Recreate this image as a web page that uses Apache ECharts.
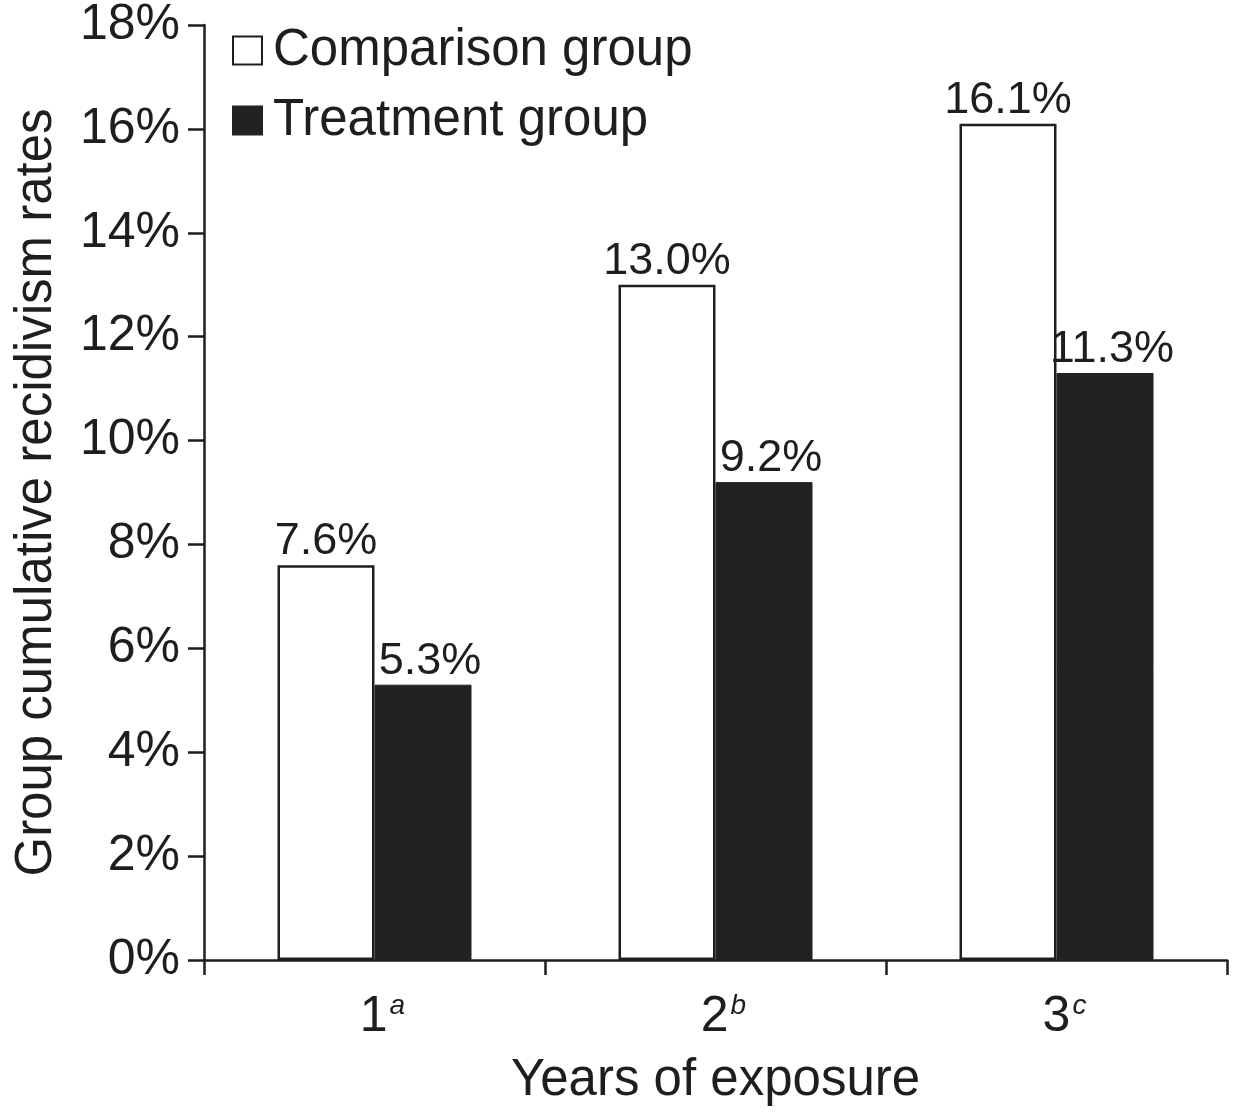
<!DOCTYPE html>
<html>
<head>
<meta charset="utf-8">
<script src="https://cdn.jsdelivr.net/npm/echarts@6/dist/echarts.min.js"></script>
<style>html,body{margin:0;padding:0;background:#fff}#c{width:1233px;height:1113px}</style>
</head>
<body>
<div id="c"></div>
<script>
const categories = ['1', '2', '3'];
const superscripts = ['a', 'b', 'c'];
const comparison = [7.6, 13.0, 16.1];
const treatment = [5.3, 9.2, 11.3];
const yTicks = [0, 2, 4, 6, 8, 10, 12, 14, 16, 18];
</script>
<script>
const ink = '#1e1e1e';
const font = 'Liberation Sans, Arial, sans-serif';
const chart = echarts.init(document.getElementById('c'), null, {renderer: 'canvas'});
chart.setOption({
  animation: false,
  backgroundColor: '#fff',
  textStyle: {fontFamily: font, color: ink},
  grid: {left: 204, right: 6, top: 23, bottom: 153, containLabel: false},
  legend: {
    orient: 'vertical', left: 227, top: 20, itemWidth: 29, itemHeight: 28, itemGap: 19,
    icon: 'rect',
    textStyle: {fontSize: 51, color: ink, fontFamily: font, padding: [0, 0, 0, 6]},
    data: ['Comparison group', 'Treatment group']
  },
  xAxis: {
    type: 'category', data: categories,
    name: 'Years of exposure', nameLocation: 'middle', nameGap: 95,
    nameTextStyle: {fontSize: 51, color: ink, fontFamily: font},
    axisLine: {lineStyle: {color: ink, width: 2.5}},
    axisTick: {show: true, length: 15, lineStyle: {color: ink, width: 2.5}},
    axisLabel: {
      margin: 32,
      formatter: function (v, i) { return '{n|' + v + '}{s|' + superscripts[i] + '}'; },
      rich: {
        n: {fontSize: 50, color: ink, fontFamily: font, padding: [0, 0, 0, 16]},
        s: {fontSize: 28, fontStyle: 'italic', verticalAlign: 'top', padding: [0, 0, 20, 2], color: ink, fontFamily: font}
      },
      fontSize: 50, color: ink, fontFamily: font
    }
  },
  yAxis: {
    type: 'value', min: 0, max: 18, interval: 2,
    name: 'Group cumulative recidivism rates', nameLocation: 'middle', nameGap: 142, nameRotate: 90,
    nameTextStyle: {fontSize: 51, color: ink, fontFamily: font},
    axisLine: {show: true, lineStyle: {color: ink, width: 2.5}},
    axisTick: {show: true, inside: false, length: 16, lineStyle: {color: ink, width: 2.5}},
    splitLine: {show: false},
    axisLabel: {margin: 24, fontSize: 50, color: ink, fontFamily: font,
      formatter: function (v) { return yTicks.indexOf(v) >= 0 ? v + '%' : ''; }}
  },
  series: [
    {
      name: 'Comparison group', type: 'bar', data: comparison, barWidth: 97, barGap: '0%',
      itemStyle: {color: '#fff', borderColor: ink, borderWidth: 2.5},
      label: {show: true, position: 'top', distance: 1, fontSize: 45, color: ink, fontFamily: font,
        formatter: function (p) { return p.value.toFixed(1) + '%'; }}
    },
    {
      name: 'Treatment group', type: 'bar', data: treatment, barWidth: 97, barGap: '0%',
      itemStyle: {color: '#222', borderColor: '#222', borderWidth: 1},
      label: {show: true, position: 'top', distance: 1, offset: [7, 0], fontSize: 45, color: ink, fontFamily: font,
        formatter: function (p) { return p.value.toFixed(1) + '%'; }}
    }
  ]
});
</script>
</body>
</html>
